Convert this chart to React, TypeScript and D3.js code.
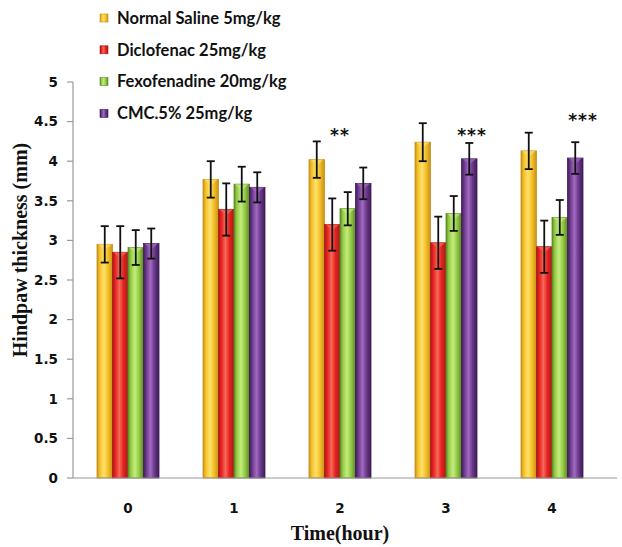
import React from "react";
import * as d3 from "d3";

// time points (hours)
const hours = ["0", "1", "2", "3", "4"];
const seriesNames = [
  "Normal Saline 5mg/kg",
  "Diclofenac 25mg/kg",
  "Fexofenadine 20mg/kg",
  "CMC.5% 25mg/kg",
];
// mean hindpaw thickness (mm), one array per group
const saline = [2.95, 3.77, 4.02, 4.24, 4.13];
const diclofenac = [2.85, 3.39, 3.2, 2.97, 2.92];
const fexofenadine = [2.91, 3.71, 3.4, 3.34, 3.29];
const cmc = [2.96, 3.67, 3.72, 4.03, 4.04];
// error (+/-)
const salineErr = [0.23, 0.23, 0.23, 0.24, 0.23];
const diclofenacErr = [0.33, 0.33, 0.33, 0.33, 0.33];
const fexofenadineErr = [0.22, 0.22, 0.21, 0.22, 0.22];
const cmcErr = [0.19, 0.19, 0.2, 0.2, 0.2];
const yTicks = [0, 0.5, 1, 1.5, 2, 2.5, 3, 3.5, 4, 4.5, 5];
// significance marks
const starLabels = ["", "", "**", "***", "***"];

const values = [saline, diclofenac, fexofenadine, cmc];
const errors = [salineErr, diclofenacErr, fexofenadineErr, cmcErr];

const colors = [
  { light: "#fbe070", mid: "#f5c226", dark: "#c8901a" },
  { light: "#f46a5a", mid: "#e8221f", dark: "#a8181a" },
  { light: "#c4ec80", mid: "#94cc44", dark: "#5e8a26" },
  { light: "#a06ac0", mid: "#6c3a8c", dark: "#3e1c56" },
];

const width = 622;
const height = 547;
const marginLeft = 73;
const axisRight = 617;
const y0 = 478;
const yTop = 82;

export default function App() {
  const x = d3.scaleBand().domain(hours).range([75, 605]).paddingInner(0).paddingOuter(0);
  const sub = d3
    .scaleBand()
    .domain(seriesNames)
    .range([0, 62])
    .padding(0);
  const groupOffset = (x.bandwidth() - 62) / 2;
  const y = d3.scaleLinear().domain([0, 5]).range([y0, yTop]);

  // where the stars sit relative to the group centre
  const starShift = [0, 0, 0, 26, 31];
  const starY = [0, 0, 128, 128, 113];

  return (
    <svg
      width={width}
      height={height}
      style={{ position: "absolute", left: 0, top: 0, background: "#fff" }}
    >
      <defs>
        {colors.map((c, i) => (
          <linearGradient key={i} id={`g${i}`} x1="0" x2="1" y1="0" y2="0">
            <stop offset="0%" stopColor={c.dark} />
            <stop offset="18%" stopColor={c.mid} />
            <stop offset="45%" stopColor={c.light} />
            <stop offset="70%" stopColor={c.mid} />
            <stop offset="100%" stopColor={c.dark} />
          </linearGradient>
        ))}
      </defs>

      {/* y axis */}
      <line x1={marginLeft} x2={marginLeft} y1={yTop} y2={y0} stroke="#9a9a9a" strokeWidth={1.2} />
      {yTicks.map((t) => (
        <g key={t}>
          <line x1={marginLeft - 6} x2={marginLeft} y1={y(t)} y2={y(t)} stroke="#9a9a9a" strokeWidth={1.2} />
          <text
            x={58}
            y={y(t)}
            dy="0.36em"
            textAnchor="end"
            fontFamily="DejaVu Sans"
            fontWeight="bold"
            fontSize={13.5}
            fill="#111"
          >
            {t}
          </text>
        </g>
      ))}
      <text
        transform={`translate(27,250) rotate(-90)`}
        textAnchor="middle"
        fontFamily="Liberation Serif"
        fontWeight="bold"
        fontSize={20}
        fill="#111"
      >
        Hindpaw thickness  (mm)
      </text>

      {/* bars */}
      {hours.map((h, gi) => (
        <g key={h} transform={`translate(${(x(h) as number) + groupOffset},0)`}>
          {seriesNames.map((s, si) => {
            const v = values[si][gi];
            const e = errors[si][gi];
            const bx = sub(s) as number;
            const bw = sub.bandwidth();
            const cx = bx + bw / 2;
            return (
              <g key={s}>
                <rect
                  x={bx}
                  y={y(v)}
                  width={bw}
                  height={y0 - y(v)}
                  fill={`url(#g${si})`}
                  stroke={colors[si].dark}
                  strokeWidth={0.8}
                />
                <path
                  d={`M${bx + 1},${y(v)} L${bx + bw - 1},${y(v)} L${cx},${y(v) + 6} Z`}
                  fill={colors[si].light}
                  opacity={0.7}
                />
                <line x1={cx} x2={cx} y1={y(v + e)} y2={y(v - e)} stroke="#111" strokeWidth={1.8} />
                <line x1={cx - 4} x2={cx + 4} y1={y(v + e)} y2={y(v + e)} stroke="#111" strokeWidth={1.8} />
                <line x1={cx - 4} x2={cx + 4} y1={y(v - e)} y2={y(v - e)} stroke="#111" strokeWidth={1.8} />
              </g>
            );
          })}
        </g>
      ))}

      {/* significance */}
      {hours.map((h, gi) =>
        starLabels[gi] ? (
          <text
            key={h}
            x={(x(h) as number) + x.bandwidth() / 2 + starShift[gi]}
            y={starY[gi]}
            dy="0.75em"
            textAnchor="middle"
            fontFamily="DejaVu Sans"
            fontWeight="bold"
            fontSize={17}
            letterSpacing={1}
            fill="#111"
          >
            {starLabels[gi]}
          </text>
        ) : null
      )}

      {/* x axis */}
      <line x1={marginLeft} x2={axisRight} y1={y0} y2={y0} stroke="#9a9a9a" strokeWidth={1.2} />
      {hours.map((h) => (
        <text
          key={h}
          x={(x(h) as number) + x.bandwidth() / 2}
          y={513}
          textAnchor="middle"
          fontFamily="DejaVu Sans"
          fontWeight="bold"
          fontSize={13.5}
          fill="#111"
        >
          {h}
        </text>
      ))}
      <text
        x={340}
        y={540}
        textAnchor="middle"
        fontFamily="Liberation Serif"
        fontWeight="bold"
        fontSize={20}
        fill="#111"
      >
        Time(hour)
      </text>

      {/* legend */}
      {seriesNames.map((s, i) => (
        <g key={s} transform={`translate(100,${18 + i * 31.8})`}>
          <rect x={0} y={-4} width={8} height={8} fill={`url(#g${i})`} stroke={colors[i].dark} strokeWidth={0.6} />
          <text
            x={17}
            y={0}
            dy="0.35em"
            fontFamily="Lato"
            fontWeight="bold"
            fontSize={16.5}
            fill="#111"
          >
            {s}
          </text>
        </g>
      ))}
    </svg>
  );
}
